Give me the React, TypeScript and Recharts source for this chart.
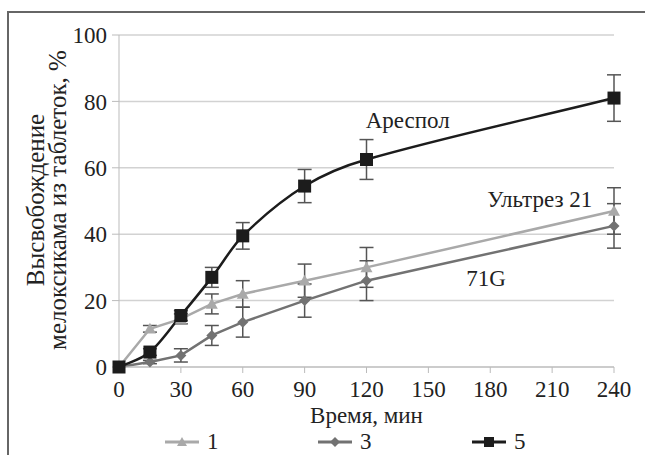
import React from "react";
import {
  LineChart,
  Line,
  XAxis,
  YAxis,
  CartesianGrid,
  ErrorBar,
  Legend,
  ReferenceDot,
  Label,
} from "recharts";

const times = [0, 15, 30, 45, 60, 90, 120, 240];
const series1 = [0, 11.5, 14.5, 19, 22, 26, 30, 47];
const err1 = [0, 1, 1.5, 3, 4, 5, 6, 7];
const series3 = [0, 1.5, 3.5, 9.5, 13.5, 20, 26, 42.5];
const err3 = [0, 0.5, 2, 3, 4.5, 5, 6, 6.7];
const series5 = [0, 4.5, 15.5, 27, 39.5, 54.5, 62.5, 81];
const err5 = [0, 1, 1.5, 3, 4, 5, 6, 7];

const xTicks = [0, 30, 60, 90, 120, 150, 180, 210, 240];
const yTicks = [0, 20, 40, 60, 80, 100];
const seriesNames = ["1", "3", "5"];
const yTitle = ["Высвобождение", "мелоксикама из таблеток, %"];
const xTitle = "Время, мин";
const notes = ["Ареспол", "Ультрез 21", "71G"];

const data = times.map((t, i) => ({
  t,
  s1: series1[i],
  e1: err1[i],
  s3: series3[i],
  e3: err3[i],
  s5: series5[i],
  e5: err5[i],
}));

const FONT = "'Liberation Serif', 'DejaVu Serif', serif";
const FS = 23;
const C1 = "#a9a9a9";
const C3 = "#727272";
const C5 = "#1c1c1c";
const ERR = "#555";

// Smooth cubic Hermite curve with central-difference tangents
function smoothCurve(context: any) {
  let pts: [number, number][] = [];
  return {
    areaStart() {},
    areaEnd() {},
    lineStart() {
      pts = [];
    },
    point(x: number, y: number) {
      pts.push([+x, +y]);
    },
    lineEnd() {
      const n = pts.length;
      if (n === 0) return;
      context.moveTo(pts[0][0], pts[0][1]);
      if (n === 1) return;
      const slope = (a: [number, number], b: [number, number]) =>
        b[0] === a[0] ? 0 : (b[1] - a[1]) / (b[0] - a[0]);
      const m: number[] = pts.map((p, i) => {
        const a = pts[i - 1] || p;
        const b = pts[i + 1] || p;
        return slope(a, b);
      });
      for (let i = 0; i < n - 1; i++) {
        const p1 = pts[i];
        const p2 = pts[i + 1];
        const dx = (p2[0] - p1[0]) / 3;
        context.bezierCurveTo(
          p1[0] + dx,
          p1[1] + dx * m[i],
          p2[0] - dx,
          p2[1] - dx * m[i + 1],
          p2[0],
          p2[1]
        );
      }
    },
  };
}

const Square = (props: any) => {
  const { cx, cy, fill, size = 12 } = props;
  if (cx == null || cy == null) return null;
  return <rect x={cx - size / 2} y={cy - size / 2} width={size} height={size} fill={fill} />;
};
const Diamond = (props: any) => {
  const { cx, cy, fill, size = 11 } = props;
  if (cx == null || cy == null) return null;
  const h = size / 2;
  return <polygon points={`${cx},${cy - h} ${cx + h},${cy} ${cx},${cy + h} ${cx - h},${cy}`} fill={fill} />;
};
const Triangle = (props: any) => {
  const { cx, cy, fill, size = 11 } = props;
  if (cx == null || cy == null) return null;
  const h = size / 2;
  return <polygon points={`${cx},${cy - h} ${cx + h},${cy + h * 0.8} ${cx - h},${cy + h * 0.8}`} fill={fill} />;
};

const legendItems = [
  { name: seriesNames[0], color: C1, shape: Triangle, left: 165 },
  { name: seriesNames[1], color: C3, shape: Diamond, left: 318 },
  { name: seriesNames[2], color: C5, shape: Square, left: 472 },
];

const LegendContent = () => (
  <div style={{ position: "relative", width: 645, height: 24 }}>
    {legendItems.map((it) => {
      const Shape = it.shape;
      return (
        <div
          key={it.name}
          style={{
            position: "absolute",
            left: it.left,
            top: 0,
            height: 24,
            lineHeight: "24px",
            display: "flex",
            alignItems: "center",
            fontFamily: FONT,
            fontSize: FS,
            color: "#222",
          }}
        >
          <svg width={34} height={20}>
            <line x1={0} y1={10} x2={34} y2={10} stroke={it.color} strokeWidth={3} />
            <Shape cx={17} cy={10} fill={it.color} size={10} />
          </svg>
          <span style={{ marginLeft: 8 }}>{it.name}</span>
        </div>
      );
    })}
  </div>
);

const YTitle = () => {
  const cy = 200;
  return (
    <g fontFamily={FONT} fontSize={25} fill="#222">
      <text x={44} y={cy} transform={`rotate(-90, 44, ${cy})`} textAnchor="middle">
        {yTitle[0]}
      </text>
      <text x={66} y={cy} transform={`rotate(-90, 66, ${cy})`} textAnchor="middle">
        {yTitle[1]}
      </text>
    </g>
  );
};

const XTitle = (props: any) => {
  const { viewBox } = props;
  const cx = viewBox.x + viewBox.width / 2;
  return (
    <text x={cx} y={viewBox.y + 56} textAnchor="middle" fontFamily={FONT} fontSize={FS} fill="#222">
      {xTitle}
    </text>
  );
};

export default function App() {
  return (
    <div
      style={{
        position: "absolute",
        left: 0,
        top: 0,
        width: 645,
        height: 455,
        overflow: "hidden",
        background: "#fff",
      }}
    >
      <div
        style={{
          position: "absolute",
          left: 7,
          top: 11,
          width: 700,
          height: 500,
          border: "2px solid #666",
          boxSizing: "border-box",
        }}
      />
      <div style={{ position: "absolute", left: 0, top: 0 }}>
        <LineChart
          width={645}
          height={455}
          data={data}
          margin={{ top: 35, right: 31, left: 0, bottom: 0 }}
        >
          <CartesianGrid vertical={false} stroke="#d2d2d2" strokeWidth={1.5} />
          <XAxis
            dataKey="t"
            type="number"
            domain={[0, 240]}
            ticks={xTicks}
            height={88}
            tickSize={6}
            tickMargin={8}
            stroke="#bbb"
            tickLine={{ stroke: "#bbb" }}
            tick={{ fontFamily: FONT, fontSize: FS, fill: "#222" }}
            interval={0}
          >
            <Label content={XTitle} />
          </XAxis>
          <YAxis
            type="number"
            domain={[0, 100]}
            ticks={yTicks}
            width={119}
            tickSize={7}
            tickMargin={5}
            stroke="#bbb"
            tickLine={{ stroke: "#bbb" }}
            tick={{ fontFamily: FONT, fontSize: FS, fill: "#222" }}
            interval={0}
          >
            <Label content={YTitle} />
          </YAxis>
          <Line
            type="linear"
            dataKey="s1"
            name={seriesNames[0]}
            stroke={C1}
            strokeWidth={2.5}
            dot={<Triangle fill={C1} size={12} />}
            isAnimationActive={false}
          >
            <ErrorBar dataKey="e1" direction="y" width={7} stroke={ERR} strokeWidth={1.5} />
          </Line>
          <Line
            type="linear"
            dataKey="s3"
            name={seriesNames[1]}
            stroke={C3}
            strokeWidth={2.5}
            dot={<Diamond fill={C3} size={11} />}
            isAnimationActive={false}
          >
            <ErrorBar dataKey="e3" direction="y" width={7} stroke={ERR} strokeWidth={1.5} />
          </Line>
          <Line
            type={smoothCurve as any}
            dataKey="s5"
            name={seriesNames[2]}
            stroke={C5}
            strokeWidth={2.5}
            dot={<Square fill={C5} size={13} />}
            isAnimationActive={false}
          >
            <ErrorBar dataKey="e5" direction="y" width={7} stroke={ERR} strokeWidth={1.5} />
          </Line>
          <ReferenceDot x={140} y={74.4} r={0} fill="none" stroke="none" ifOverflow="visible">
            <Label value={notes[0]} position="center" fontFamily={FONT} fontSize={FS} fill="#222" />
          </ReferenceDot>
          <ReferenceDot x={204} y={50.6} r={0} fill="none" stroke="none" ifOverflow="visible">
            <Label value={notes[1]} position="center" fontFamily={FONT} fontSize={FS} fill="#222" />
          </ReferenceDot>
          <ReferenceDot x={178} y={26.8} r={0} fill="none" stroke="none" ifOverflow="visible">
            <Label value={notes[2]} position="center" fontFamily={FONT} fontSize={FS} fill="#222" />
          </ReferenceDot>
          <Legend
            verticalAlign="middle"
            align="center"
            layout="horizontal"
            content={LegendContent}
            wrapperStyle={{ top: 430, left: 0, width: 645, height: 24 }}
          />
        </LineChart>
      </div>
    </div>
  );
}
